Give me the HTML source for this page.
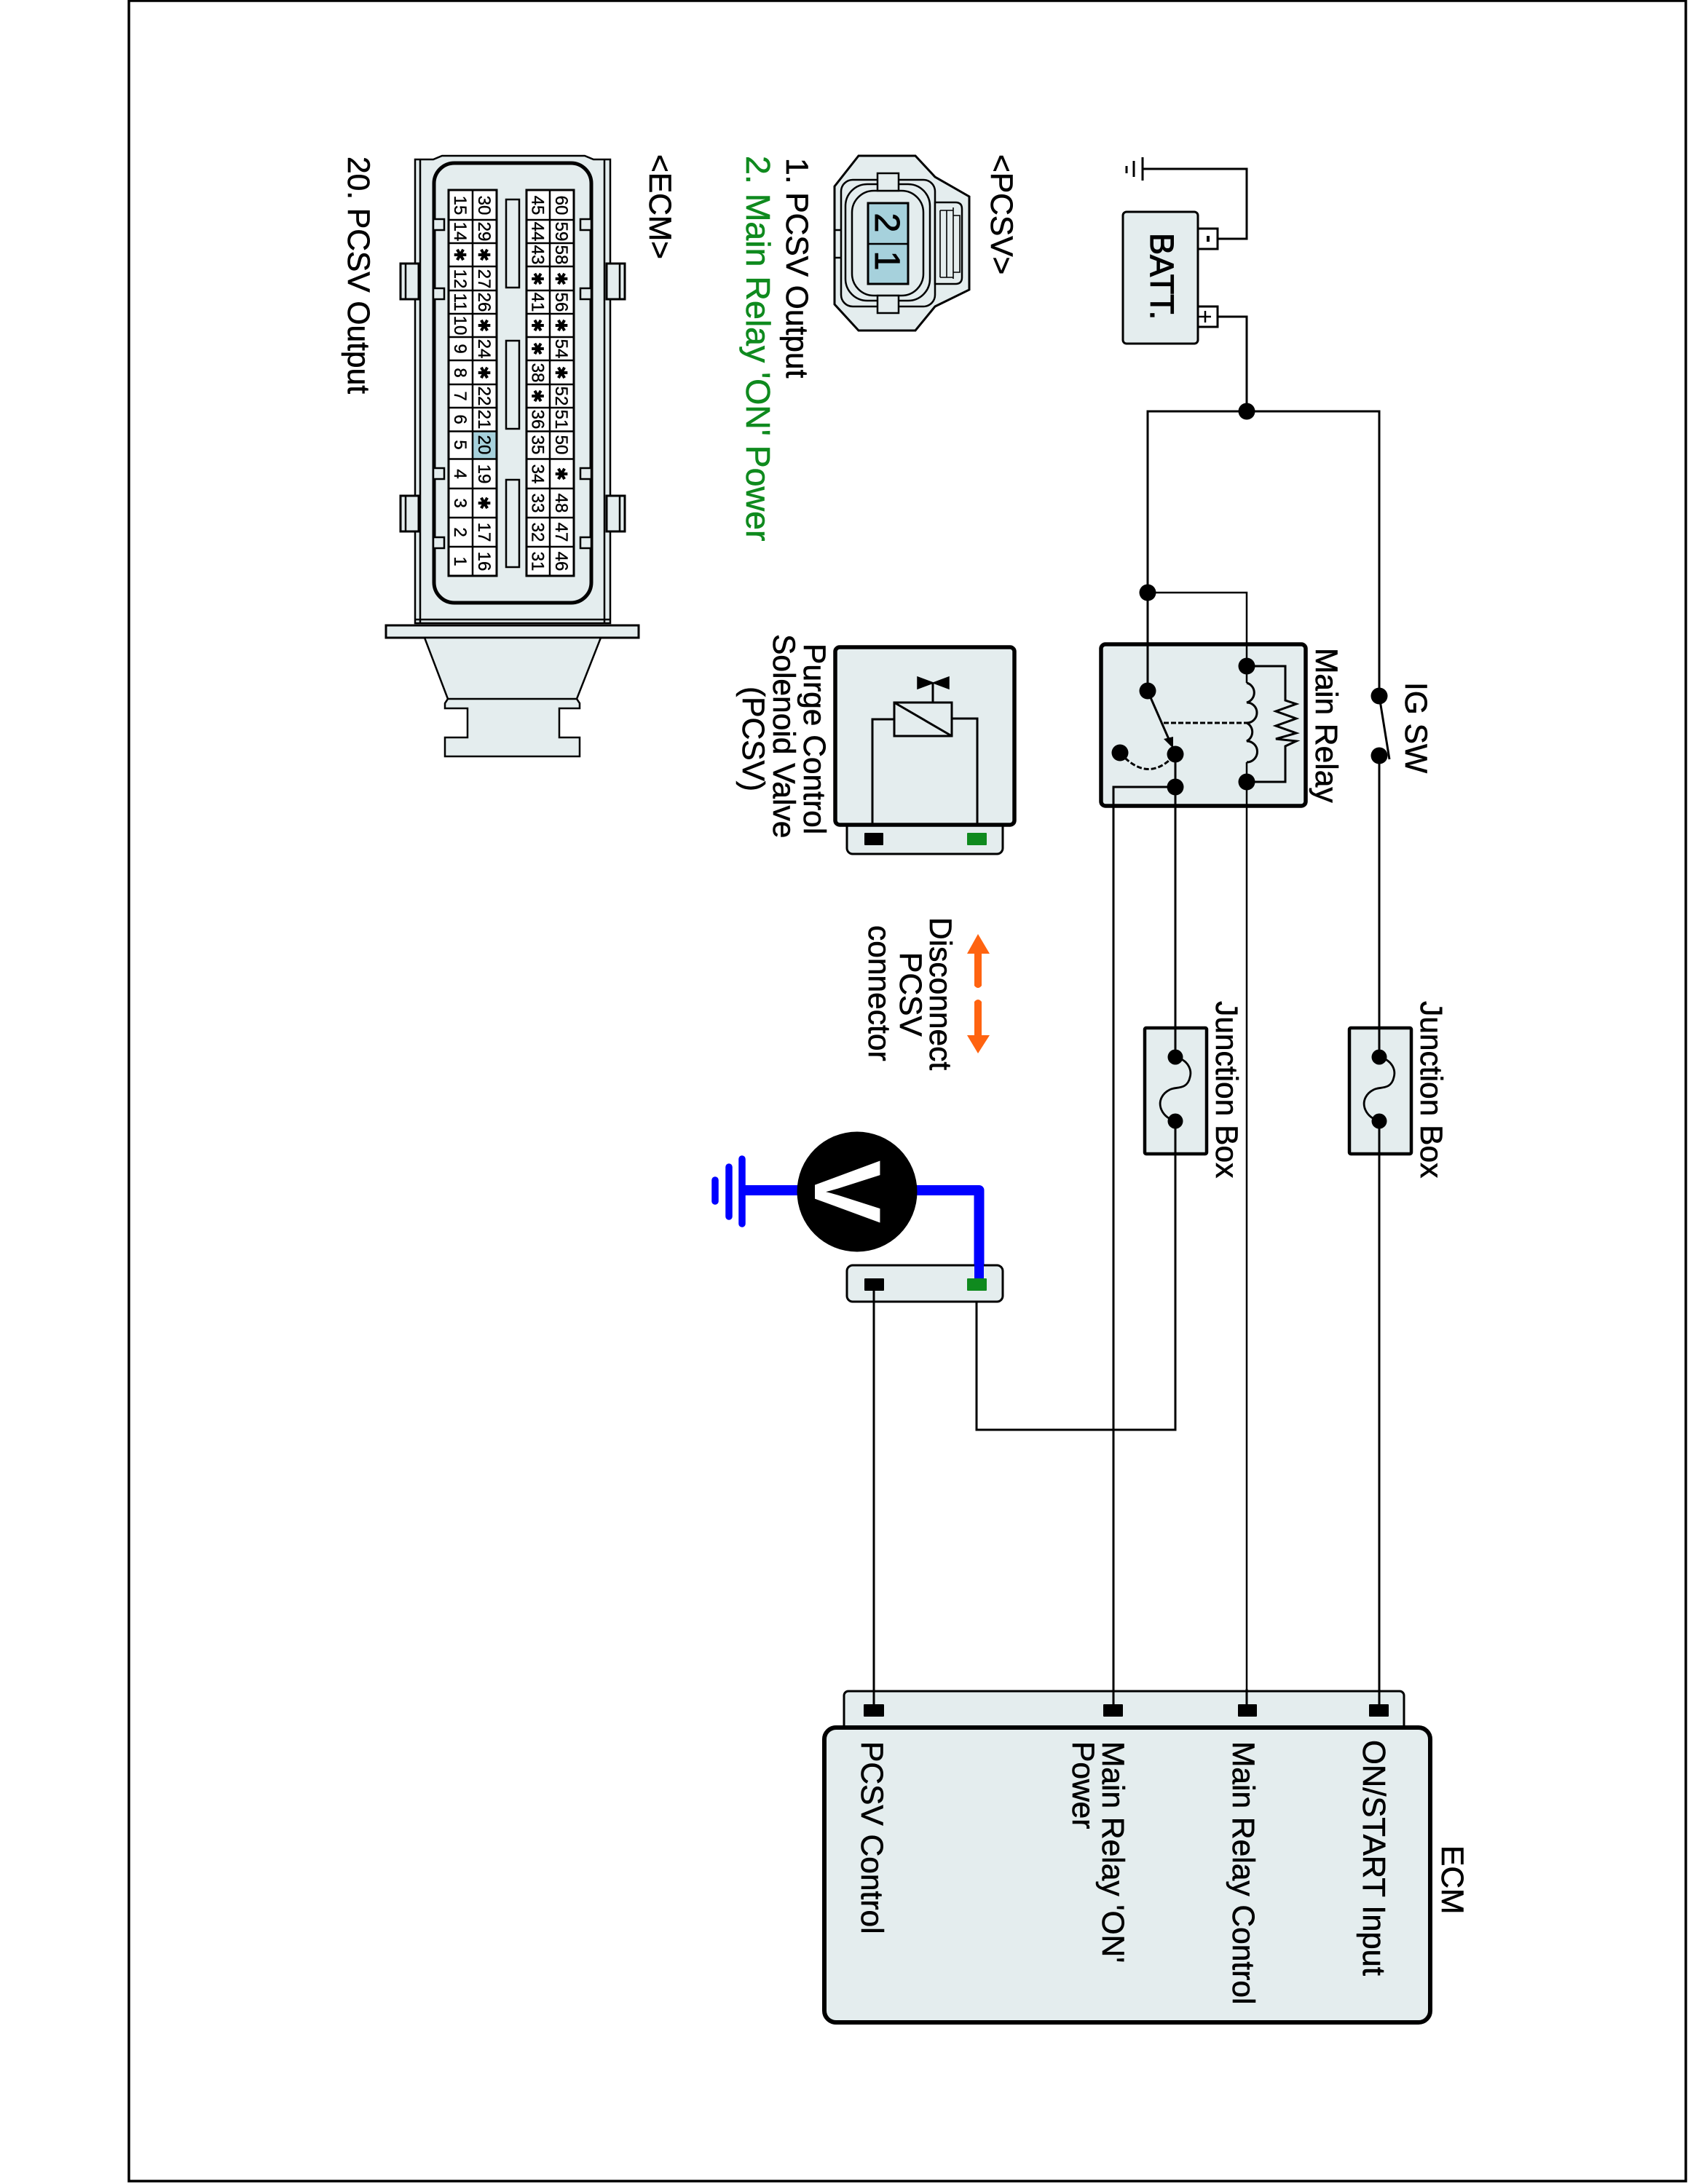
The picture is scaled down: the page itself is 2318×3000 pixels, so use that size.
<!DOCTYPE html>
<html><head><meta charset="utf-8"><style>
html,body{margin:0;padding:0;background:#fff}
svg{display:block}
text{font-family:"Liberation Sans",sans-serif;font-size:42.5px;fill:#000;stroke:#000;stroke-width:.6}
.p{font-size:24px;text-anchor:middle;stroke-width:.4}
.s{font-family:"DejaVu Sans",sans-serif;font-size:22px;text-anchor:middle}
.f{fill:#e4edee;stroke:#000}
.w{fill:none;stroke:#000;stroke-width:3}
.t{fill:none;stroke:#000;stroke-width:2.5}
</style></head><body>
<svg width="2318" height="3000" viewBox="0 0 2318 3000" xmlns="http://www.w3.org/2000/svg">
<rect x="177" y="1" width="2138" height="2995" fill="#fff" stroke="#000" stroke-width="3.5"/>

<!-- ECM connector (pin view) -->
<path class="f" stroke-width="2.5" d="M570 219H595L607 214H803L815 219H838V856H570Z"/>
<path class="t" d="M577 219V856M830 219V856M570 851H838"/>
<rect class="f" stroke-width="3" x="530" y="859" width="347" height="17"/>
<path class="f" stroke-width="2.5" d="M583 876H825L792 960L796 966V973H768V1013H796V1039H611V1013H642V973H611V966L615 960Z"/>
<path class="t" d="M615 960H792"/>
<g class="f" stroke-width="3">
<rect x="550" y="362" width="25" height="49"/><rect x="550" y="681" width="25" height="49"/>
<rect x="833" y="362" width="25" height="49"/><rect x="833" y="681" width="25" height="49"/>
</g>
<path class="t" d="M557 362V411M557 681V730M851 362V411M851 681V730"/>
<rect x="596" y="224" width="216" height="604" rx="28" fill="#e4edee" stroke="#000" stroke-width="5"/>
<g class="f" stroke-width="2.5">
<rect x="595" y="301" width="15" height="15"/><rect x="595" y="396" width="15" height="15"/>
<rect x="595" y="643" width="15" height="15"/><rect x="595" y="738" width="15" height="15"/>
<rect x="797" y="301" width="15" height="15"/><rect x="797" y="396" width="15" height="15"/>
<rect x="797" y="643" width="15" height="15"/><rect x="797" y="738" width="15" height="15"/>
<rect x="695" y="274" width="18" height="121"/><rect x="695" y="468" width="18" height="121"/><rect x="695" y="659" width="18" height="120"/>
</g>
<rect x="616" y="261" width="66" height="530" fill="#fff"/>
<rect x="723" y="261" width="65" height="530" fill="#fff"/>
<rect x="649" y="592.5" width="33" height="38" fill="#a6d1dc"/>
<rect x="616" y="261" width="66" height="530" fill="none" stroke="#000" stroke-width="3"/>
<rect x="723" y="261" width="65" height="530" fill="none" stroke="#000" stroke-width="3"/>
<path class="t" d="M649 261V791M755 261V791M616 302H682M723 302H788M616 334H682M723 334H788M616 366H682M723 366H788M616 399H682M723 399H788M616 431H682M723 431H788M616 463H682M723 463H788M616 495H682M723 495H788M616 528H682M723 528H788M616 560H682M723 560H788M616 592.5H682M723 592.5H788M616 630.5H682M723 630.5H788M616 671H682M723 671H788M616 711H682M723 711H788M616 751H682M723 751H788"/>

<!-- PCSV connector view -->
<path class="f" stroke-width="3" d="M1179 214H1257L1284 243L1331 270V398L1284 421L1257 454H1179L1146 418V256Z"/>
<rect class="f" stroke-width="2.5" x="1155" y="247" width="129" height="174" rx="16"/>
<path class="t" d="M1146 316H1155M1146 354H1155"/>
<path class="f" stroke-width="2.5" d="M1284 278H1312Q1321 278 1321 287V381Q1321 390 1312 390H1284Z"/>
<path fill="none" stroke="#000" stroke-width="1.6" d="M1291 289V381M1300 289V381M1291 289H1309M1291 381H1309M1309 285V383M1309 296H1318V374H1309"/>
<rect class="f" stroke-width="2.5" x="1161" y="253" width="116" height="160" rx="30"/>
<rect class="f" stroke-width="2.5" x="1170" y="262" width="98" height="144" rx="30"/>
<rect class="f" stroke-width="2.5" x="1205" y="238" width="29" height="24"/>
<rect class="f" stroke-width="2.5" x="1205" y="406" width="29" height="24"/>
<rect x="1192" y="279" width="55" height="111" fill="#a6d1dc" stroke="#000" stroke-width="3"/>
<path class="t" d="M1192 335H1247"/>

<!-- Battery -->
<rect class="f" stroke-width="3" x="1542" y="291" width="103" height="181" rx="5"/>
<rect x="1645" y="314" width="27" height="28" fill="#fff" stroke="#000" stroke-width="3"/>
<rect x="1645" y="421" width="27" height="28" fill="#fff" stroke="#000" stroke-width="3"/>
<path class="w" d="M1569 232H1712V328H1672M1569 216V248M1557 221V243M1547 228V238"/>
<path fill="none" stroke="#000" stroke-width="4" d="M1659 324V332"/>
<path class="t" d="M1646 435H1663M1655 427V443"/>
<path class="w" d="M1672 435H1712V565M1576 1000V565H1894V2345"/>

<!-- Main relay -->
<rect class="f" stroke-width="5.5" x="1512" y="885" width="281" height="222" rx="6"/>
<path class="t" d="M1576 814H1712V2345"/>
<path class="w" d="M1576 814V949L1608 1022"/>
<path d="M1598 1015L1611 1012V1028Z"/>
<path class="w" fill="none" d="M1712 915H1765V962L1780 967L1752 977L1780 987L1752 997L1780 1007L1752 1015L1780 1018L1765 1025V1074H1712"/>
<path fill="#e4edee" stroke="none" d="M1706 938H1730V1047H1706Z"/>
<path class="w" d="M1712 938A14 14 0 0 1 1712 965A14 14 0 0 1 1712 993A14 14 0 0 1 1712 1018A14 14 0 0 1 1712 1047"/>
<path class="w" stroke-dasharray="7 3" d="M1598 993H1712M1538 1034Q1577 1078 1614 1036"/>
<path class="w" d="M1614 1036V1964H1341V1772"/>
<path class="w" d="M1529 2345V1081H1614"/>
<g>
<circle cx="1712" cy="565" r="11.5"/><circle cx="1576" cy="814" r="11.5"/>
<circle cx="1712" cy="915" r="11.5"/><circle cx="1576" cy="949" r="11.5"/>
<circle cx="1614" cy="1036" r="11.5"/><circle cx="1538" cy="1034" r="11.5"/>
<circle cx="1614" cy="1081" r="11.5"/><circle cx="1712" cy="1074" r="11.5"/>
</g>

<!-- IG SW -->
<rect x="1885" y="960" width="18" height="74" fill="#fff"/>
<circle cx="1894" cy="956" r="11.5"/><circle cx="1894" cy="1038" r="11.5"/>
<path class="w" d="M1894 956L1908 1043"/>

<!-- Fuses -->
<rect class="f" stroke-width="4.5" x="1572" y="1412" width="85" height="173" rx="2"/>
<rect class="f" stroke-width="4.5" x="1853" y="1412" width="85" height="173" rx="2"/>
<path class="w" d="M1614 1412V1452M1614 1540V1590M1894 1412V1452M1894 1540V1590"/>
<g fill="none" stroke="#000" stroke-width="2.8">
<path d="M1614 1452C1632 1456 1637 1470 1634 1480C1630 1498 1614 1492 1606 1497C1596 1502 1591 1512 1594 1522C1598 1534 1608 1538 1614 1540"/>
<path d="M1894 1452C1912 1456 1917 1470 1914 1480C1910 1498 1894 1492 1886 1497C1876 1502 1871 1512 1874 1522C1878 1534 1888 1538 1894 1540"/>
</g>
<circle cx="1614" cy="1452" r="10.5"/><circle cx="1614" cy="1540" r="10.5"/>
<circle cx="1894" cy="1452" r="10.5"/><circle cx="1894" cy="1540" r="10.5"/>

<!-- PCSV component -->
<rect class="f" stroke-width="3" x="1163" y="1120" width="214" height="53" rx="8"/>
<rect class="f" stroke-width="5.5" x="1147" y="889" width="246" height="244" rx="6"/>
<rect x="1187" y="1144" width="26" height="17" rx="1"/>
<rect x="1328" y="1144" width="27" height="17" rx="1" fill="#0f8a1e"/>
<path class="w" d="M1198 1133V988H1228M1342 1133V987H1307"/>
<rect x="1228" y="965" width="79" height="46" fill="#e4edee" stroke="#000" stroke-width="3"/>
<path class="w" d="M1228 965L1307 1011M1281 965V938"/>
<path d="M1260 930V946L1303 930V946Z" stroke="#000" stroke-width="1.5"/>

<!-- Orange arrows -->
<path fill="#ff6310" d="M1343 1283L1359 1310H1348V1354Q1343 1360 1338 1354V1310H1328Z"/>
<path fill="#ff6310" d="M1343 1447L1359 1422H1348V1376Q1343 1370 1338 1376V1422H1328Z"/>

<!-- Voltmeter -->
<path fill="none" stroke="#00f" stroke-width="14" stroke-linejoin="round" d="M1023 1635H1100M1250 1635H1344.5V1757"/>
<path fill="none" stroke="#00f" stroke-linecap="round" stroke-width="9.5" d="M1019 1592V1681M1001 1603V1671M982 1621V1650"/>
<circle cx="1177" cy="1637" r="82.5"/>

<!-- PCSV bottom connector -->
<rect class="f" stroke-width="3" x="1163" y="1738" width="214" height="50" rx="8"/>
<path fill="none" stroke="#00f" stroke-width="13" d="M1344.5 1700V1757"/>
<rect x="1187" y="1756" width="27" height="17" rx="1"/>
<rect x="1328" y="1756" width="27" height="17" rx="1" fill="#0f8a1e"/>
<path class="w" d="M1200 1772V2345"/>

<!-- ECM -->
<rect class="f" stroke-width="3" x="1159" y="2323" width="769" height="60" rx="6"/>
<path class="w" d="M1200 2320V2345M1529 2320V2345M1712 2320V2345M1894 2320V2345"/>
<rect class="f" stroke-width="6" x="1132" y="2373" width="832" height="405" rx="16"/>
<rect x="1186" y="2341" width="28" height="17" rx="1"/><rect x="1515" y="2341" width="27" height="17" rx="1"/>
<rect x="1700" y="2341" width="26" height="17" rx="1"/><rect x="1880" y="2341" width="27" height="17" rx="1"/>

<!-- All labels: group rotated 90deg; x = page y, y = -page x -->
<g transform="rotate(90)">
<text x="320" y="-1580" style="font-size:45px;stroke-width:1.2">BATT.</text>
<text x="890" y="-1807">Main Relay</text>
<text x="937" y="-1930">IG SW</text>
<text x="1375" y="-1670">Junction Box</text>
<text x="1375" y="-1951">Junction Box</text>
<text x="212" y="-1361">&lt;PCSV&gt;</text>
<text x="217" y="-1080">1. PCSV Output</text>
<text x="214" y="-1025" style="font-size:46.5px;fill:#0f8a1e;stroke:#0f8a1e">2. Main Relay 'ON' Power</text>
<text x="212" y="-892">&lt;ECM&gt;</text>
<text x="215" y="-478">20. PCSV Output</text>
<text x="884" y="-1104">Purge Control</text>
<text x="871" y="-1062">Solenoid Valve</text>
<text x="943" y="-1020">(PCSV)</text>
<text x="1260" y="-1277">Disconnect</text>
<text x="1308" y="-1236">PCSV</text>
<text x="1271" y="-1193">connector</text>
<text x="2392" y="-1183">PCSV Control</text>
<text x="2392" y="-1514">Main Relay 'ON'</text>
<text x="2392" y="-1473">Power</text>
<text x="2392" y="-1693">Main Relay Control</text>
<text x="2390" y="-1872" style="font-size:43.5px">ON/START Input</text>
<text x="2535" y="-1980">ECM</text>
<text x="1637" y="-1119" style="font-size:130px;font-weight:bold;fill:#fff;stroke:none;text-anchor:middle">V</text>
<text x="306" y="-1202" style="font-size:48px;text-anchor:middle;stroke-width:1">2</text>
<text x="358" y="-1202" style="font-size:48px;text-anchor:middle;stroke-width:1">1</text>

<g>
<text class="p" x="282" y="-624">15</text><text class="p" x="318" y="-624">14</text><text class="s" x="350" y="-624">✱</text><text class="p" x="383" y="-624">12</text><text class="p" x="415" y="-624">11</text><text class="p" x="447" y="-624">10</text><text class="p" x="479" y="-624">9</text><text class="p" x="512" y="-624">8</text><text class="p" x="544" y="-624">7</text><text class="p" x="576" y="-624">6</text><text class="p" x="611" y="-624">5</text><text class="p" x="651" y="-624">4</text><text class="p" x="691" y="-624">3</text><text class="p" x="731" y="-624">2</text><text class="p" x="771" y="-624">1</text>
<text class="p" x="282" y="-657">30</text><text class="p" x="318" y="-657">29</text><text class="s" x="350" y="-657">✱</text><text class="p" x="383" y="-657">27</text><text class="p" x="415" y="-657">26</text><text class="s" x="447" y="-657">✱</text><text class="p" x="479" y="-657">24</text><text class="s" x="512" y="-657">✱</text><text class="p" x="544" y="-657">22</text><text class="p" x="576" y="-657">21</text><text class="p" x="611" y="-657">20</text><text class="p" x="651" y="-657">19</text><text class="s" x="691" y="-657">✱</text><text class="p" x="731" y="-657">17</text><text class="p" x="771" y="-657">16</text>
<text class="p" x="282" y="-730.5">45</text><text class="p" x="318" y="-730.5">44</text><text class="p" x="350" y="-730.5">43</text><text class="s" x="383" y="-730.5">✱</text><text class="p" x="415" y="-730.5">41</text><text class="s" x="447" y="-730.5">✱</text><text class="s" x="479" y="-730.5">✱</text><text class="p" x="512" y="-730.5">38</text><text class="s" x="544" y="-730.5">✱</text><text class="p" x="576" y="-730.5">36</text><text class="p" x="611" y="-730.5">35</text><text class="p" x="651" y="-730.5">34</text><text class="p" x="691" y="-730.5">33</text><text class="p" x="731" y="-730.5">32</text><text class="p" x="771" y="-730.5">31</text>
<text class="p" x="282" y="-763">60</text><text class="p" x="318" y="-763">59</text><text class="p" x="350" y="-763">58</text><text class="s" x="383" y="-763">✱</text><text class="p" x="415" y="-763">56</text><text class="s" x="447" y="-763">✱</text><text class="p" x="479" y="-763">54</text><text class="s" x="512" y="-763">✱</text><text class="p" x="544" y="-763">52</text><text class="p" x="576" y="-763">51</text><text class="p" x="611" y="-763">50</text><text class="s" x="651" y="-763">✱</text><text class="p" x="691" y="-763">48</text><text class="p" x="731" y="-763">47</text><text class="p" x="771" y="-763">46</text>
</g>
</g>
</svg>
</body></html>
